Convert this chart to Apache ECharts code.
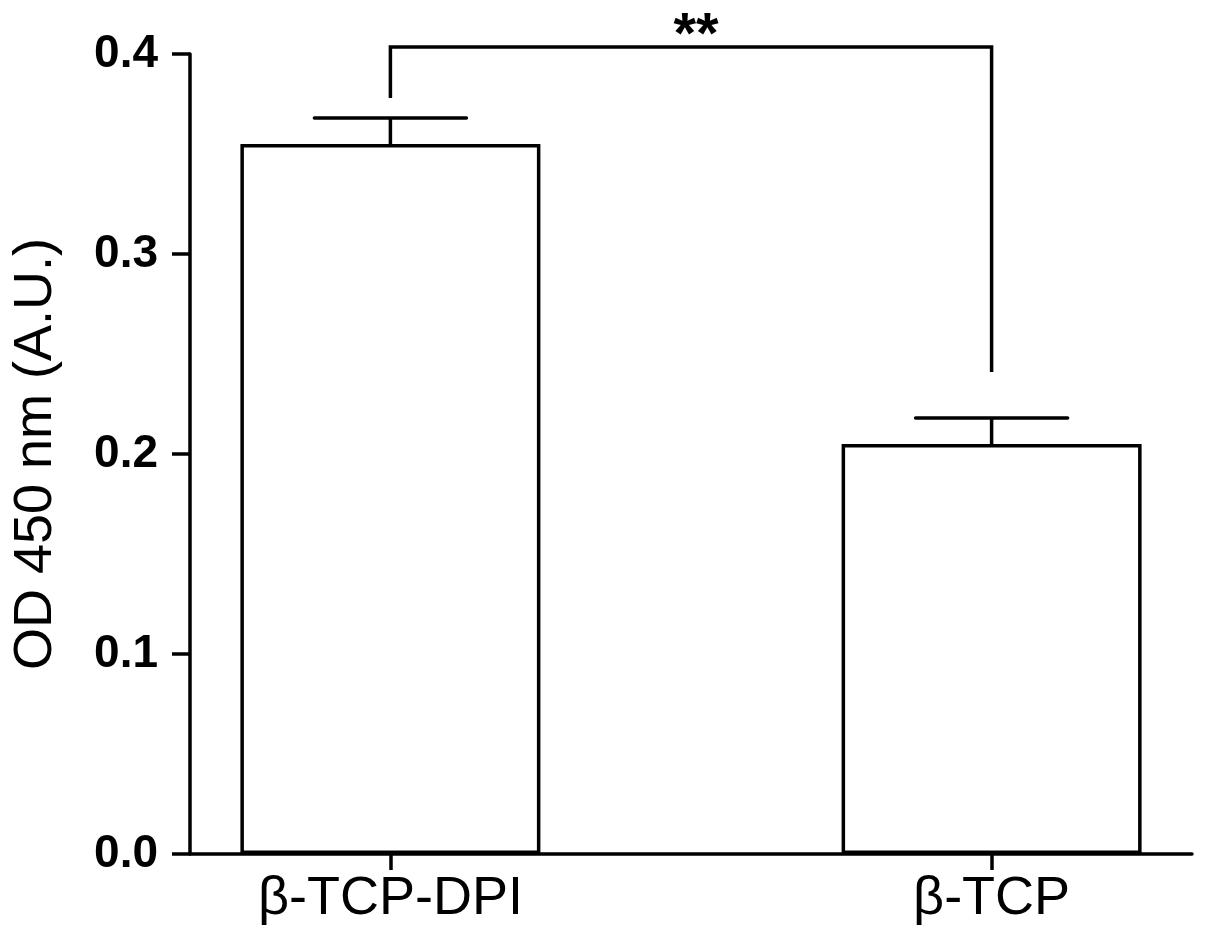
<!DOCTYPE html>
<html>
<head>
<meta charset="utf-8">
<script src="https://cdn.jsdelivr.net/npm/echarts@6/dist/echarts.min.js"></script>
<style>
  html, body { margin: 0; padding: 0; background: #fff; }
  #chart { width: 1205px; height: 946px; }
</style>
</head>
<body>
<div id="chart"></div>
<script>
    // slots on the x axis: groups sit at index 1 and 4
    const slots = ['', 'β-TCP-DPI', '', '', 'β-TCP', ''];
    const groupIdx = [1, 4];
    const means = [0.355, 0.205];
    const errors = [0.013, 0.013];
    const yTicks = [0.0, 0.1, 0.2, 0.3, 0.4];

    // significance bracket
    const bracketTop = 0.4035;
    const bracketEnds = [0.378, 0.241];
    const sigText = '**';

    const font = 'Liberation Sans, Arial, sans-serif';
    const lw = 3.5;

    const barData = slots.map(() => '-');
    groupIdx.forEach((idx, i) => { barData[idx] = means[i]; });

    const errData = groupIdx.map((idx, i) => [idx, means[i], means[i] + errors[i]]);

    const myChart = echarts.init(document.getElementById('chart'));

    const option = {
        animation: false,
        grid: {
            left: 190,
            right: 13,
            top: 54,
            bottom: 92
        },
        xAxis: {
            type: 'category',
            data: slots,
            boundaryGap: false,
            axisLine: { lineStyle: { color: '#000', width: lw } },
            axisTick: {
                length: 16,
                lineStyle: { color: '#000', width: lw },
                interval: (i) => groupIdx.indexOf(i) >= 0
            },
            axisLabel: {
                interval: (i) => groupIdx.indexOf(i) >= 0,
                color: '#000',
                fontFamily: font,
                fontSize: 54,
                margin: 18
            },
            splitLine: { show: false }
        },
        yAxis: {
            type: 'value',
            min: yTicks[0],
            max: yTicks[yTicks.length - 1],
            interval: 0.1,
            name: 'OD 450 nm (A.U.)',
            nameLocation: 'middle',
            nameGap: 127,
            nameTextStyle: { color: '#000', fontFamily: font, fontSize: 54 },
            axisLine: { show: true, lineStyle: { color: '#000', width: lw } },
            axisTick: { show: true, length: 18, lineStyle: { color: '#000', width: lw } },
            axisLabel: {
                color: '#000',
                fontFamily: font,
                fontSize: 46,
                fontWeight: 'bold',
                margin: 32,
                formatter: (v) => v.toFixed(1)
            },
            splitLine: { show: false }
        },
        series: [
            {
                type: 'bar',
                data: barData,
                barWidth: 300,
                itemStyle: { color: '#fff', borderColor: '#000', borderWidth: lw },
                z: 2
            },
            {
                // error bars
                type: 'custom',
                data: errData,
                z: 3,
                renderItem: function (params, api) {
                    const x = api.value(0);
                    const lo = api.coord([x, api.value(1)]);
                    const hi = api.coord([x, api.value(2)]);
                    const half = 76;
                    return {
                        type: 'group',
                        children: [
                            { type: 'line', shape: { x1: lo[0], y1: lo[1], x2: hi[0], y2: hi[1] },
                              style: { stroke: '#000', lineWidth: lw } },
                            { type: 'line', shape: { x1: hi[0] - half, y1: hi[1], x2: hi[0] + half, y2: hi[1] },
                              style: { stroke: '#000', lineWidth: lw, lineCap: 'round' } }
                        ]
                    };
                }
            },
            {
                // significance bracket
                type: 'custom',
                data: [[groupIdx[0], groupIdx[1]]],
                z: 3,
                renderItem: function (params, api) {
                    const a = api.coord([groupIdx[0], bracketEnds[0]]);
                    const b = api.coord([groupIdx[0], bracketTop]);
                    const c = api.coord([groupIdx[1], bracketTop]);
                    const d = api.coord([groupIdx[1], bracketEnds[1]]);
                    return {
                        type: 'group',
                        children: [
                            { type: 'polyline', shape: { points: [a, b, c, d] },
                              style: { stroke: '#000', lineWidth: lw, fill: null } },
                            { type: 'text', x: (b[0] + c[0]) / 2 + 5, y: 8,
                              style: { text: sigText, fill: '#000', fontFamily: font, fontSize: 58,
                                       fontWeight: 'bold', align: 'center', verticalAlign: 'top' } }
                        ]
                    };
                }
            }
        ]
    };

    myChart.setOption(option);
</script>
</body>
</html>
